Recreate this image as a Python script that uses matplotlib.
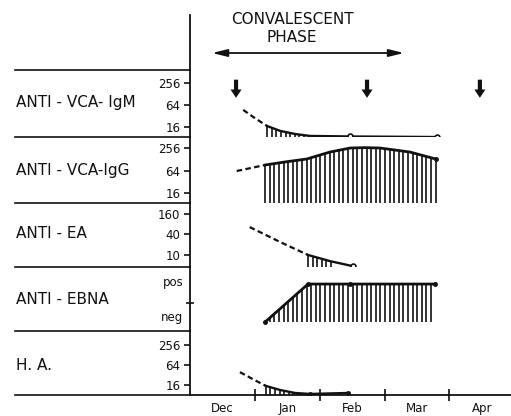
import numpy as np
import matplotlib
matplotlib.use('Agg')
import matplotlib.pyplot as plt
from matplotlib.lines import Line2D

# months counted from 1 Dec (0 = 1 Dec, 1 = 1 Jan, ...)
months = ['Dec', 'Jan', 'Feb', 'Mar', 'Apr']
sample_arrows = [0.71, 2.73, 4.47]

igm_dash_x = [0.82, 1.0, 1.19]
igm_dash_y = [47, 28, 17]
igm_x = [1.19, 1.39, 1.62, 1.85, 2.47, 3.81]
igm_y = [17, 12.5, 10.3, 9.1, 8.8, 8.5]

igg_dash_x = [0.72, 1.16]
igg_dash_y = [62, 90]
igg_x = [1.16, 1.46, 1.80, 2.16, 2.47, 2.70, 2.93, 3.39, 3.79]
igg_y = [90, 108, 130, 200, 256, 262, 256, 200, 130]

ea_dash_x = [0.92, 1.39, 1.82]
ea_dash_y = [66, 24, 10]
ea_x = [1.82, 2.16, 2.51]
ea_y = [10, 6.6, 4.7]

ebna_x = [1.16, 1.82, 2.47, 3.78]
ebna_y = [0, 1, 1, 1]

ha_dash_x = [0.77, 0.97, 1.17]
ha_dash_y = [39, 24, 15]
ha_x = [1.17, 1.39, 1.62, 1.85, 2.43]
ha_y = [15, 11.3, 9.2, 8.6, 9.2]

W, H = 511, 416
fig = plt.figure(figsize=(W / 100, H / 100), dpi=100)
plt.rcParams['font.family'] = 'DejaVu Sans'
K = '#111111'


def fx(px):
    return px / W


def fy(py):
    return 1 - py / H


def panel(top, bottom, ylo, yhi, log=True):
    ax = fig.add_axes([fx(190), fy(bottom), fx(511) - fx(190), fy(top) - fy(bottom)])
    if log:
        ax.set_yscale('log', base=2)
    ax.set_ylim(ylo, yhi)
    ax.set_xlim(0, 4.95)
    for s in ['top', 'right', 'bottom']:
        ax.spines[s].set_visible(False)
    ax.spines['left'].set_linewidth(1.3)
    ax.spines['left'].set_color(K)
    ax.set_xticks([])
    ax.tick_params(axis='y', direction='out', length=4, width=1.2, labelsize=8.5, pad=3, colors=K)
    ax.yaxis.set_minor_locator(matplotlib.ticker.NullLocator())
    return ax


def hatch(ax, x, y, x0, x1, base, step=0.071):
    xs = np.arange(x0, x1 + 1e-6, step)
    if ax.get_yscale() == 'log':
        ys = 2 ** np.interp(xs, x, np.log2(y))
    else:
        ys = np.interp(xs, x, y)
    ax.vlines(xs, base, ys, color=K, lw=1.2)


dash = (0, (2.5, 1.5))

# panel 1 IgM
ax1 = panel(70, 137, 2 ** 3.09, 2 ** 9.18)
ax1.set_yticks([256, 64, 16], ['256', '64', '16'])
ax1.plot(igm_dash_x, igm_dash_y, color=K, lw=1.6, linestyle=dash)
ax1.plot(igm_x, igm_y, color=K, lw=1.7)
ax1.plot(igm_x[-2:], igm_y[-2:], 'o', ms=3.5, mfc='white', mec=K, mew=1.2)
hatch(ax1, igm_x, igm_y, igm_x[0], 1.85, 2 ** 3.09)
for a in sample_arrows:
    ax1.annotate('', xy=(a, 2 ** 6.65), xytext=(a, 2 ** 8.3),
                 arrowprops=dict(arrowstyle='simple,head_width=0.8,head_length=0.6,tail_width=0.3',
                                 color=K, lw=0, shrinkA=0, shrinkB=0), annotation_clip=False)
ax1.annotate('', xy=(0.34, fy(53)), xytext=(3.30, fy(53)),
             xycoords=('data', 'figure fraction'), textcoords=('data', 'figure fraction'),
             arrowprops=dict(arrowstyle='<|-|>,head_length=0.9,head_width=0.22',
                             color=K, lw=1.3, shrinkA=0, shrinkB=0), annotation_clip=False)
fig.text(fx(292), fy(20), 'CONVALESCENT', ha='center', va='center', fontsize=11, color=K)
fig.text(fx(292), fy(38), 'PHASE', ha='center', va='center', fontsize=11, color=K)

# panel 2 IgG
ax2 = panel(137, 203, 2 ** 3.11, 2 ** 8.98)
ax2.set_yticks([256, 64, 16], ['256', '64', '16'])
ax2.plot(igg_dash_x, igg_dash_y, color=K, lw=1.6, linestyle=dash)
ax2.plot(igg_x, igg_y, color=K, lw=2.0)
ax2.plot(igg_x[-1:], igg_y[-1:], 'o', ms=2.5, color=K)
hatch(ax2, igg_x, igg_y, igg_x[0], igg_x[-1], 2 ** 3.11)

# panel 3 EA
ax3 = panel(203, 267, 2 ** 2.15, 2 ** 8.39)
ax3.set_yticks([160, 40, 10], ['160', '40', '10'])
ax3.plot(ea_dash_x, ea_dash_y, color=K, lw=1.6, linestyle=dash)
ax3.plot(ea_x, ea_y, color=K, lw=1.7)
ax3.plot(ea_x[-1:], ea_y[-1:], 'o', ms=3.5, mfc='white', mec=K, mew=1.2)
hatch(ax3, ea_x, ea_y, ea_x[0], 2.2, 2 ** 2.15)

# panel 4 EBNA
ax4 = panel(267, 331, -0.24, 1.45, log=False)
ax4.set_yticks([0.5], [''])
ax4.tick_params(axis='y', direction='inout', length=6)
ax4.text(-0.02, 1.03, 'pos', ha='right', va='center', fontsize=8.5, color=K,
         transform=ax4.get_yaxis_transform())
ax4.text(-0.02, 0.12, 'neg', ha='right', va='center', fontsize=8.5, color=K,
         transform=ax4.get_yaxis_transform())
ax4.plot(ebna_x, ebna_y, color=K, lw=2.0, marker='o', ms=2.5)
hatch(ax4, ebna_x, ebna_y, ebna_x[0], ebna_x[-1], 0)

# panel 5 H.A.
ax5 = panel(331, 395, 2 ** 3.0, 2 ** 9.4)
ax5.set_yticks([256, 64, 16], ['256', '64', '16'])
ax5.plot(ha_dash_x, ha_dash_y, color=K, lw=1.6, linestyle=dash)
ax5.plot(ha_x, ha_y, color=K, lw=1.7)
ax5.plot(ha_x[-2:], ha_y[-2:], 'o', ms=2.5, color=K)
hatch(ax5, ha_x, ha_y, ha_x[0], 1.70, 2 ** 3.0)
ax5.spines['bottom'].set_visible(True)
ax5.spines['bottom'].set_linewidth(1.3)
ax5.spines['bottom'].set_color(K)
ax5.set_xticks(np.arange(1, 5))
ax5.set_xticklabels([])
ax5.set_xticks(np.arange(len(months)) + 0.5, months, minor=True)
ax5.tick_params(axis='x', which='major', direction='inout', length=8, width=1.2, colors=K)
ax5.tick_params(axis='x', which='minor', length=0, labelsize=8.5, pad=5, colors=K)

# panel labels on the left
labels = ['ANTI - VCA- IgM', 'ANTI - VCA-IgG', 'ANTI - EA', 'ANTI - EBNA', 'H. A.']
label_y = [103, 170, 234, 300, 365]
for t, yy in zip(labels, label_y):
    fig.text(fx(16), fy(yy), t, ha='left', va='center', fontsize=11, color=K)

# separators and frame lines
for yy in [70, 137, 203, 267, 331, 395]:
    fig.add_artist(Line2D([fx(15), fx(190)], [fy(yy), fy(yy)], color=K, lw=1.2))
fig.add_artist(Line2D([fx(190), fx(190)], [fy(15), fy(70)], color=K, lw=1.3))

fig.savefig('out.png', dpi=100)
